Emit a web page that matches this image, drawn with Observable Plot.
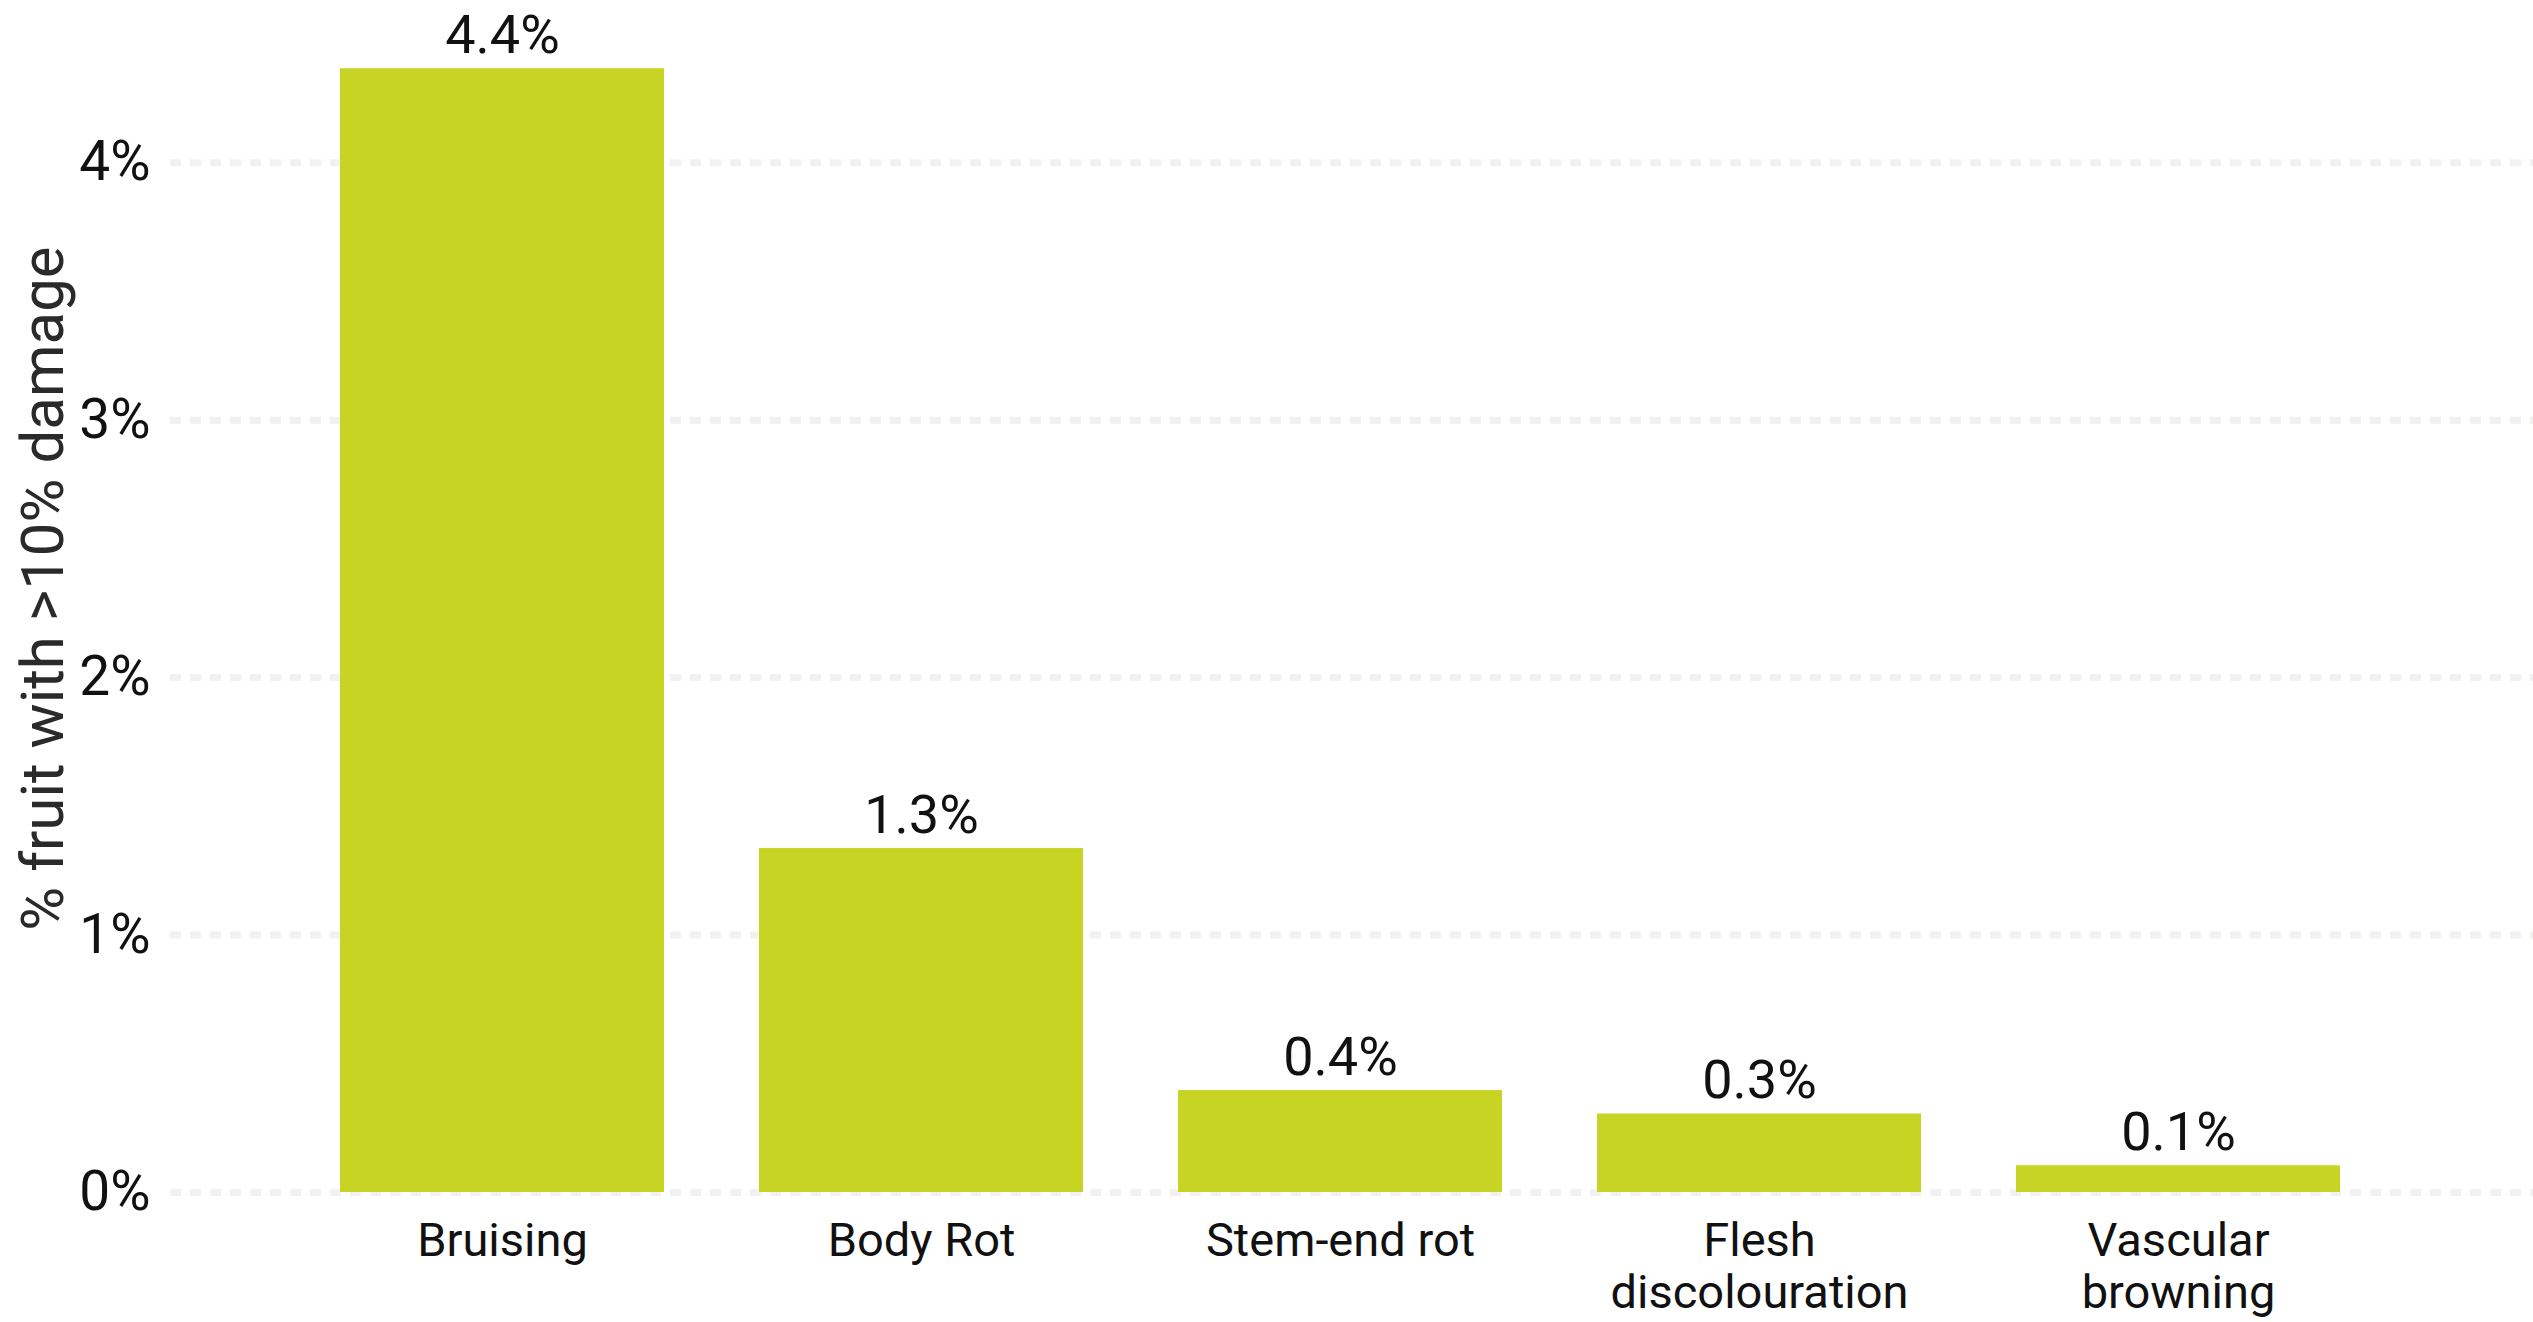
<!DOCTYPE html>
<html>
<head>
<meta charset="utf-8">
<script src="https://cdn.jsdelivr.net/npm/d3@7"></script>
<script src="https://cdn.jsdelivr.net/npm/@observablehq/plot@0.6"></script>
<style>
  html, body { margin: 0; padding: 0; background: #ffffff; overflow: hidden; }
  #chart svg { display: block; }
</style>
</head>
<body>
<div id="chart"></div>
<script>
const categories = ["Bruising", "Body Rot", "Stem-end rot", "Flesh discolouration", "Vascular browning"];
const tickLabels = ["Bruising", "Body Rot", "Stem-end rot", "Flesh\ndiscolouration", "Vascular\nbrowning"];
const values = [4.365, 1.336, 0.396, 0.305, 0.104];
const yTicks = [0, 1, 2, 3, 4];
const yLabel = "% fruit with >10% damage";

const data = categories.map((c, i) => ({category: c, value: values[i]}));

const chart = Plot.plot({
  width: 2533,
  height: 1322,
  marginLeft: 170,
  marginRight: 0,
  marginTop: 0,
  marginBottom: 130,
  style: {fontFamily: "Roboto, 'Noto Sans', sans-serif", background: "#ffffff", color: "#111111"},
  x: {domain: categories, paddingInner: 0.226, paddingOuter: 0.428, align: 0.47, label: null},
  y: {domain: [0, 4.63], label: null},
  marks: [
    Plot.ruleY(yTicks, {stroke: "#f1f1ef", strokeWidth: 7, strokeDasharray: "11,9"}),
    Plot.barY(data, {x: "category", y: "value", fill: "#c8d424"}),
    Plot.text(data, {
      x: "category", y: "value",
      text: d => d3.format(".1f")(d.value) + "%",
      lineAnchor: "bottom", dy: -16, fontSize: 54, fill: "#111111"
    }),
    Plot.axisX({
      tickSize: 0, tickPadding: 27, fontSize: 47, lineHeight: 1.1,
      tickFormat: d => tickLabels[categories.indexOf(d)], label: null, fill: "#111111"
    }),
    Plot.axisY({
      ticks: yTicks, tickSize: 0, tickPadding: 20, fontSize: 55,
      tickFormat: d => d + "%", label: null, fill: "#111111"
    }),
    Plot.text([yLabel], {
      text: d => d, frameAnchor: "left", rotate: -90, dx: -150, dy: -8,
      lineAnchor: "top", textAnchor: "middle", fontSize: 60, fill: "#2a2a2a"
    })
  ]
});

document.getElementById("chart").appendChild(chart);
</script>
</body>
</html>
